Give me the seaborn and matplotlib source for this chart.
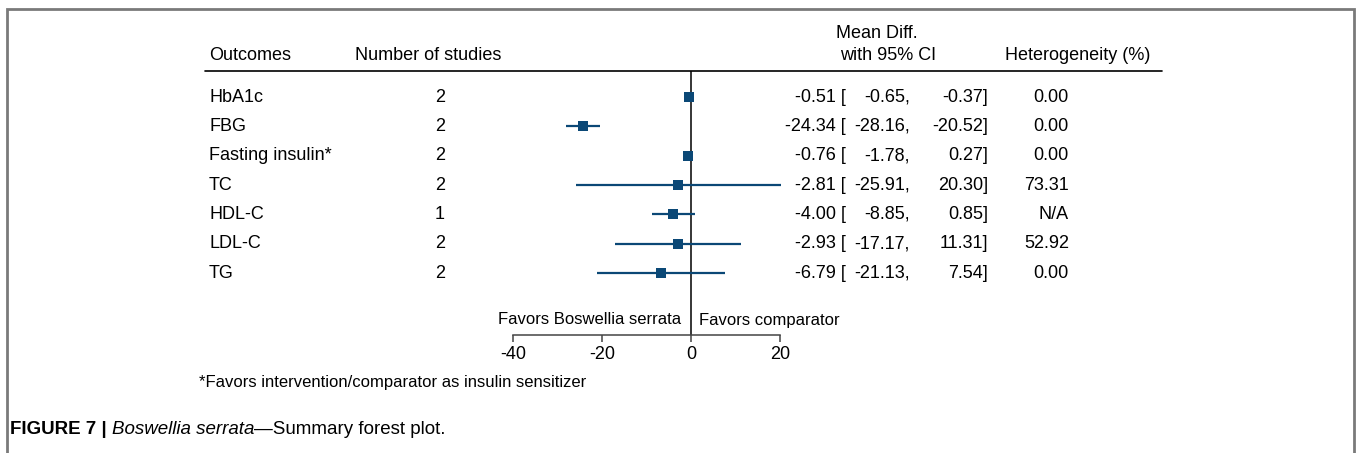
import matplotlib
matplotlib.use("Agg")
import matplotlib.pyplot as plt
import matplotlib.transforms as mtransforms
from matplotlib.patches import Rectangle
import seaborn as sns
import pandas as pd

outcomes = ["HbA1c", "FBG", "Fasting insulin*", "TC", "HDL-C", "LDL-C", "TG"]
n_studies = [2, 2, 2, 2, 1, 2, 2]
mean_diff = [-0.51, -24.34, -0.76, -2.81, -4.00, -2.93, -6.79]
ci_low = [-0.65, -28.16, -1.78, -25.91, -8.85, -17.17, -21.13]
ci_high = [-0.37, -20.52, 0.27, 20.30, 0.85, 11.31, 7.54]
heterogeneity = ["0.00", "0.00", "0.00", "73.31", "N/A", "52.92", "0.00"]
xticks = [-40, -20, 0, 20]

df = pd.DataFrame({"outcome": outcomes, "row": range(len(outcomes)),
                   "md": mean_diff, "lo": ci_low, "hi": ci_high})

sns.set_theme(style="white")
plt.rcParams["font.family"] = ["Liberation Sans", "DejaVu Sans"]
plt.rcParams["text.color"] = "black"
plt.rcParams["xtick.color"] = "black"

W, H = 1357, 453
fig = plt.figure(figsize=(W / 100, H / 100), dpi=100)

def fx(px):
    return px / W

def fy(py):
    return 1 - py / H

# forest axes geometry (pixels)
ppu = (781 - 514) / 60.0
xmin, xmax = -42, 22
x0_px = 691
left_px = x0_px + xmin * ppu
right_px = x0_px + xmax * ppu
top_px, bottom_px = 71, 335
row0_px, row_step = 97, (273 - 97) / 6.0
ytop = -(row0_px - top_px) / row_step
ybot = (bottom_px - row0_px) / row_step

ax = fig.add_axes([fx(left_px), fy(bottom_px), fx(right_px - left_px), (bottom_px - top_px) / H])
color = "#0b4876"
ax.hlines(df["row"], df["lo"], df["hi"], color=color, lw=1.6, zorder=2)
sns.scatterplot(data=df, x="md", y="row", marker="s", s=50, color=color,
                edgecolor=color, linewidth=0, ax=ax, zorder=3)
ax.axvline(0, color="black", lw=1.1, zorder=1)
ax.set_xlim(xmin, xmax)
ax.set_ylim(ybot, ytop)
ax.set_xticks(xticks)
ax.set_xticklabels([str(t) for t in xticks], fontsize=13, color="black")
ax.set_yticks([])
ax.set_xlabel("")
ax.set_ylabel("")
for s in ["top", "left", "right"]:
    ax.spines[s].set_visible(False)
ax.spines["bottom"].set_bounds(xticks[0], xticks[-1])
ax.spines["bottom"].set_color("#444444")
ax.spines["bottom"].set_linewidth(1.1)
ax.tick_params(axis="x", bottom=True, length=5, width=1.1, color="#444444", pad=3, labelcolor="black")
ax.patch.set_alpha(0)

trans = mtransforms.blended_transform_factory(fig.transFigure, ax.transData)
fs = 13
for i in range(len(outcomes)):
    fig.text(fx(209), i, outcomes[i], transform=trans, fontsize=fs, ha="left", va="center")
    fig.text(fx(440), i, str(n_studies[i]), transform=trans, fontsize=fs, ha="center", va="center")
    fig.text(fx(846), i, f"{mean_diff[i]:.2f} [", transform=trans, fontsize=fs, ha="right", va="center")
    fig.text(fx(910), i, f"{ci_low[i]:.2f},", transform=trans, fontsize=fs, ha="right", va="center")
    fig.text(fx(988), i, f"{ci_high[i]:.2f}]", transform=trans, fontsize=fs, ha="right", va="center")
    fig.text(fx(1069), i, heterogeneity[i], transform=trans, fontsize=fs, ha="right", va="center")

# headers
fig.text(fx(209), fy(56), "Outcomes", fontsize=fs, ha="left", va="center")
fig.text(fx(355), fy(56), "Number of studies", fontsize=fs, ha="left", va="center")
fig.text(fx(877), fy(33), "Mean Diff.", fontsize=fs, ha="center", va="center")
fig.text(fx(888), fy(56), "with 95% CI", fontsize=fs, ha="center", va="center")
fig.text(fx(1078), fy(56), "Heterogeneity (%)", fontsize=fs, ha="center", va="center")
fig.add_artist(plt.Line2D([fx(205), fx(1162)], [fy(71), fy(71)], color="black", lw=1.2))

# favors labels
fig.text(fx(681), fy(320), "Favors Boswellia serrata", fontsize=12, ha="right", va="center")
fig.text(fx(699), fy(320), "Favors comparator", fontsize=12, ha="left", va="center")

# footnote
fig.text(fx(199), fy(382), "*Favors intervention/comparator as insulin sensitizer", fontsize=12, ha="left", va="center")

# caption
cap_fam = ["Liberation Sans", "DejaVu Sans"]
cfs = 13.5
t1 = fig.text(fx(10), fy(429), "FIGURE 7 | ", fontsize=cfs, fontweight="bold", family=cap_fam, ha="left", va="center")
fig.canvas.draw()
r = fig.canvas.get_renderer()
bb = t1.get_window_extent(r)
t2 = fig.text(bb.x1 / W, fy(429), "Boswellia serrata", fontsize=cfs, style="italic", family=cap_fam, ha="left", va="center")
bb2 = t2.get_window_extent(r)
fig.text(bb2.x1 / W, fy(429), "\u2014Summary forest plot.", fontsize=cfs, family=cap_fam, ha="left", va="center")

# frame
fig.add_artist(Rectangle((fx(7), fy(470)), fx(1354 - 7), (470 - 9) / H, transform=fig.transFigure,
                         fill=False, edgecolor="#7a7a7a", lw=2, clip_on=False))

fig.savefig("out.png", dpi=100)
